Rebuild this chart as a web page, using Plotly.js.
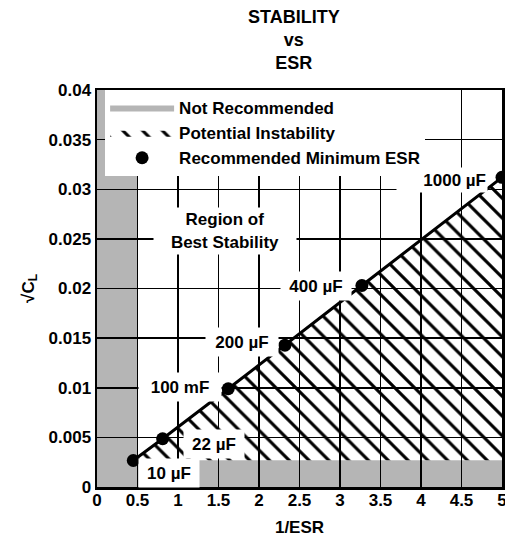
<!DOCTYPE html>
<html>
<head>
<meta charset="utf-8">
<script src="https://cdn.plot.ly/plotly-3.0.1.min.js"></script>
<style>html,body{margin:0;padding:0;background:#fff;}#chart{width:505px;height:537px;}</style>
</head>
<body>
<div id="chart"></div>
<script>
// Recommended minimum ESR points (x = 1/ESR, y = sqrt(C_L))
const invESR = [0.448, 0.81, 1.62, 2.32, 3.27, 5.0];
const sqrtCL = [0.00267, 0.00486, 0.0099, 0.01429, 0.0203, 0.0312];
const capLabels = ['10 µF', '22 µF', '100 mF', '200 µF', '400 µF', '1000 µF'];
// label box centres (data coords)
const labelX = [0.889, 1.444, 1.025, 1.79, 2.70, 4.26];
const labelY = [0.00146, 0.00438, 0.01003, 0.01461, 0.0203, 0.03095];
const labelW = [58, 58, 80, 70, 68, 88];
const labelH = [26, 26, 26, 26, 26, 22];
// "Not Recommended" region limits
const notRecX = 0.5;      // vertical strip right edge
const notRecY = 0.0027;   // horizontal strip top edge
const xMax = 5, yMax = 0.04;
const xTicks = [0, 0.5, 1, 1.5, 2, 2.5, 3, 3.5, 4, 4.5, 5];
const yTicks = [0, 0.005, 0.01, 0.015, 0.02, 0.025, 0.03, 0.035, 0.04];

const FONT = 'Liberation Sans, Arial, Helvetica, sans-serif';

const notRec = {
  x: [0, xMax, xMax, notRecX, notRecX, 0, 0],
  y: [0, 0, notRecY, notRecY, yMax, yMax, 0],
  type: 'scatter', mode: 'lines', fill: 'toself',
  fillcolor: 'rgba(0,0,0,0.29)', line: {width: 0, color: 'rgba(0,0,0,0)'},
  name: 'Not Recommended', hoverinfo: 'skip'
};
const hatch = {
  x: invESR.concat([xMax, invESR[0]]),
  y: sqrtCL.concat([notRecY, notRecY]),
  type: 'scatter', mode: 'lines', fill: 'toself',
  fillcolor: 'rgba(0,0,0,0)',
  fillpattern: {shape: '\\', size: 14, solidity: 0.22, fgcolor: 'black', bgcolor: 'rgba(0,0,0,0)'},
  line: {width: 0, color: 'rgba(0,0,0,0)'},
  name: 'Potential Instability', hoverinfo: 'skip'
};
const line = {
  x: invESR, y: sqrtCL, type: 'scatter', mode: 'lines',
  line: {color: 'black', width: 3}, showlegend: false
};
const pts = {
  x: invESR, y: sqrtCL, type: 'scatter', mode: 'markers',
  marker: {color: 'black', size: 13},
  name: 'Recommended Minimum ESR'
};

const annotations = capLabels.map((t, i) => ({
  x: labelX[i], y: labelY[i], xref: 'x', yref: 'y', text: t, showarrow: false,
  bgcolor: 'white', width: labelW[i], height: labelH[i], borderpad: 1, align: i === 5 ? 'right' : 'center',
  font: {family: FONT, size: 17, color: 'black', weight: 700}
}));
annotations.push({
  x: 1.58, y: 0.02584, xref: 'x', yref: 'y', text: 'Region of<br>Best Stability', showarrow: false,
  bgcolor: 'white', width: 140, height: 44, borderpad: 1,
  font: {family: FONT, size: 17, color: 'black', weight: 700}
});

const axisCommon = {
  showline: true, linecolor: 'black', linewidth: 2.5, mirror: true,
  showgrid: true, gridcolor: 'black', gridwidth: 1.5, zeroline: false,
  ticks: '', tickfont: {family: FONT, size: 17, color: 'black', weight: 700}
};

const layout = {
  width: 505, height: 537,
  margin: {l: 97, r: 3, t: 90, b: 50},
  paper_bgcolor: 'white', plot_bgcolor: 'white',
  showlegend: true,
  title: {
    text: 'STABILITY<br>vs<br>ESR',
    font: {family: FONT, size: 18, color: 'black', weight: 700},
    x: 0.486, xref: 'paper', y: 0.958, yref: 'container', yanchor: 'middle'
  },
  xaxis: Object.assign({}, axisCommon, {
    range: [0, xMax], tickvals: xTicks, ticklabeloverflow: 'allow', ticklabelstandoff: -4,
    title: {text: '1/ESR', font: {family: FONT, size: 17, color: 'black', weight: 700}, standoff: 14}
  }),
  yaxis: Object.assign({}, axisCommon, {
    range: [0, yMax], tickvals: yTicks,
    title: {text: '√C<sub>L</sub>', font: {family: FONT, size: 17, color: 'black', weight: 700}, standoff: 10}
  }),
  legend: {
    x: 0.02, y: 1.0, xanchor: 'left', yanchor: 'top',
    bgcolor: 'white', borderwidth: 0, itemwidth: 64, tracegroupgap: 0,
    font: {family: FONT, size: 17, color: 'black', weight: 700}
  },
  annotations: annotations
};

Plotly.newPlot('chart', [notRec, hatch, line, pts], layout, {displayModeBar: false, staticPlot: true});
</script>
</body>
</html>
